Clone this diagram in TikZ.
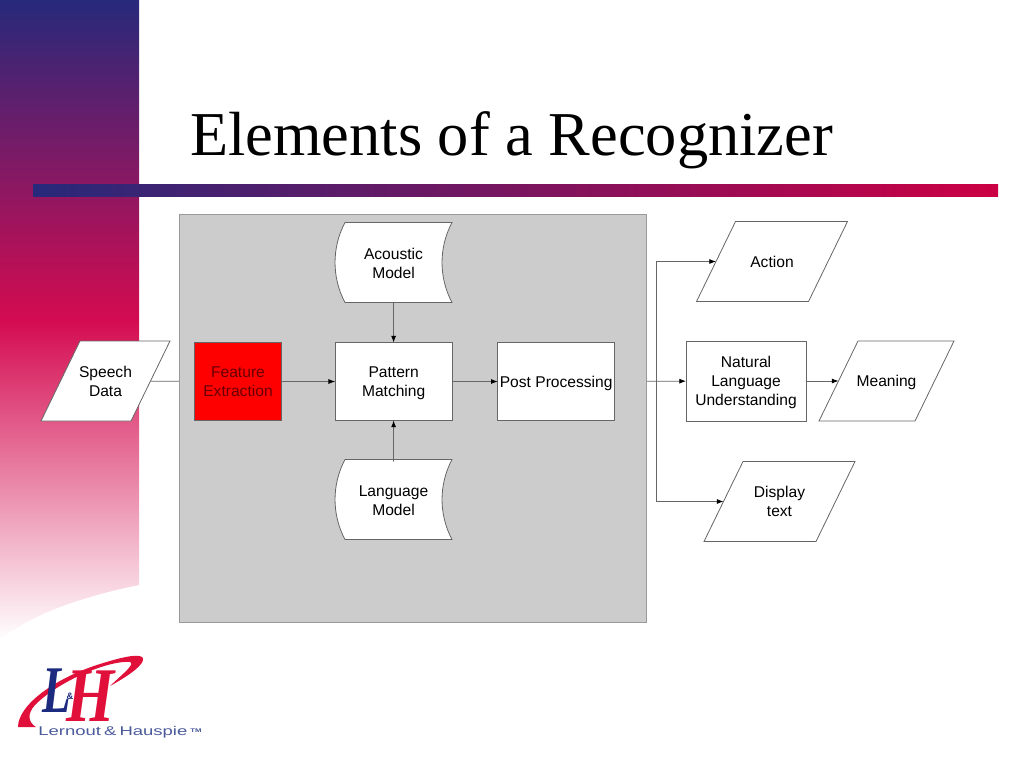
\documentclass[tikz,border=0pt]{standalone}
\usepackage{fontspec}
\setmainfont{Liberation Sans}
\newfontfamily\titlefont{Liberation Serif}
\usetikzlibrary{arrows.meta,positioning,backgrounds}
\definecolor{navy}{HTML}{27297A}
\definecolor{crimson}{HTML}{D40B50}
\definecolor{barend}{HTML}{CC0044}
\definecolor{panelfill}{HTML}{CCCCCC}
\definecolor{edge}{HTML}{666666}
\definecolor{logoblue}{HTML}{1C2A80}
\definecolor{logored}{HTML}{E0103A}
\definecolor{logotext}{HTML}{4A5A9A}
\tikzset{
  >={Latex[length=5pt,width=3.75pt,black]},
  every node/.style={font=\fontsize{11.7}{14.3}\selectfont,text=black},
  box/.style={draw=edge,line width=0.6pt,fill=white,align=center,inner sep=0pt,outer sep=0pt,text depth=0pt,minimum width=87.75pt,minimum height=58.5pt},
  redbox/.style={box,fill=red,text=red!40!black,minimum width=65.5pt,minimum height=59pt},
  outline/.style={draw=edge,line width=0.6pt,fill=white},
  shapetext/.style={align=center,inner sep=0pt,outer sep=0pt,text depth=0pt,minimum height=58.5pt},
  arrow/.style={->,draw=edge,line width=0.6pt},
  plainline/.style={draw=edge,line width=0.6pt},
}
\newcommand{\storedbox}[3]{%
  \draw[outline,shift={(#2)}] (-48.5,-40) -- (58.5,-40) .. controls (45.2,-15) and (45.2,15) .. (58.5,40) -- (-48.5,40) .. controls (-61.8,15) and (-61.8,-15) .. cycle;
  \node[shapetext,minimum width=87.75pt,yshift=-0.75pt] (#1) at (#2) {#3};
}
\newcommand{\slantbox}[4]{%
  \draw[outline,shift={(#2)}] (-#3+19.5,-40) -- (#3+19.5,-40) -- (#3-19.5,40) -- (-#3-19.5,40) -- cycle;
  \node[shapetext,minimum width=#3*1.5pt] (#1) at (#2) {#4};
}

\begin{document}
\begin{tikzpicture}[x=0.75pt,y=-0.75pt]
\useasboundingbox (0,0) rectangle (1024,768);

\shade[top color=navy,bottom color=white,middle color=crimson] (0,0) -- (139,0) -- (139,585) .. controls (80,597) and (30,615) .. (0,640) -- cycle;
\shade[left color=navy,right color=barend] (33,184) rectangle (998,196);
\node[font=\titlefont\fontsize{46.8}{50}\selectfont,inner sep=0pt] (title) at (511.5,140) {Elements of a Recognizer};

\node[draw=black!40,line width=0.6pt,fill=panelfill,inner sep=0pt,outer sep=0pt,minimum width=350pt,minimum height=306pt] (panel) at (412.75,418) {};

\slantbox{speech}{105.5,381}{45}{Speech\\Data}
\node[redbox] (feature) at (238,381.5) {Feature\\Extraction};
\node[box,right=14.1mm of feature] (pattern) {Pattern\\Matching};
\node[box,right=12mm of pattern] (post) {Post Processing};
\storedbox{acoustic}{393.5,262.5}{Acoustic\\Model}
\storedbox{language}{393.5,499.5}{Language\\Model}
\node[box,minimum width=90pt,minimum height=60pt] (nlu) at (746,381) {Natural\\Language\\Understanding};
\slantbox{meaning}{886.5,381}{48}{Meaning}
\slantbox{action}{772,261.5}{56}{Action}
\slantbox{display}{779.5,501.5}{56}{Display\\text}
\coordinate (branch) at (656,381);

\begin{scope}[on background layer]
\draw[plainline] (speech) -- (feature);
\draw[arrow] (post) -- (nlu);
\end{scope}
\draw[arrow] (feature) -- (pattern);
\draw[arrow] (pattern) -- (post);
\draw[arrow] (acoustic) -- (pattern);
\draw[arrow] (language) -- (pattern);
\draw[arrow] (nlu) -- (meaning);
\draw[arrow] (branch) |- (action.west);
\draw[arrow] (branch) |- (display.west);

\fill[logored] (18,727) .. controls (18,705) and (55,678) .. (100,664) .. controls (122,657) and (140,653) .. (143,658) .. controls (145,664) and (130,675) .. (110,686) .. controls (125,672) and (135,664) .. (130,662) .. controls (110,660) and (60,680) .. (35,705) .. controls (27,714) and (28,722) .. (36,727) -- cycle;
\node[font=\titlefont\bfseries\itshape\fontsize{50}{50}\selectfont,text=logoblue,inner sep=0pt,xscale=0.7] (logoL) at (57,691) {L};
\node[font=\titlefont\bfseries\itshape\fontsize{58}{58}\selectfont,text=logored,inner sep=0pt,xscale=0.8] (logoH) at (91,696) {H};
\node[font=\bfseries\fontsize{7}{7}\selectfont,text=logoblue,inner sep=0pt] (logoamp) at (70,696) {\&};
\node[font=\fontsize{9.5}{10}\selectfont,text=logotext,inner sep=0pt,xscale=1.46] (logoname) at (120,732) {Lernout\,\&\,Hauspie\,\raisebox{2pt}{\fontsize{4}{4}\selectfont\bfseries TM}};
\end{tikzpicture}
\end{document}
